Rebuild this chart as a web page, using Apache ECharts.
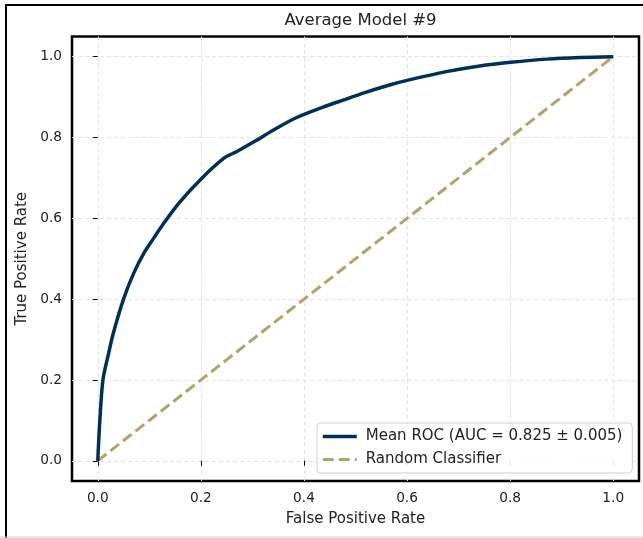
<!DOCTYPE html>
<html>
<head>
<meta charset="utf-8">
<script src="https://cdn.jsdelivr.net/npm/echarts@6/dist/echarts.min.js"></script>
<style>
html,body{margin:0;padding:0;background:#fff;}
#c{width:643px;height:538px;}
</style>
</head>
<body>
<div id="c"></div>
<script>
var titleText = 'Average Model #9';
var xName = 'False Positive Rate';
var yName = 'True Positive Rate';
var rocName = 'Mean ROC (AUC = 0.825 \u00b1 0.005)';
var randName = 'Random Classifier';
var tickValues = [0, 0.2, 0.4, 0.6, 0.8, 1.0];

var rocFpr = [0, 0.004, 0.01, 0.02, 0.03, 0.05, 0.07, 0.09, 0.107, 0.126, 0.159, 0.2, 0.246, 0.269, 0.308, 0.34, 0.385, 0.443, 0.482, 0.515, 0.566, 0.602, 0.676, 0.741, 0.801, 0.871, 0.935, 1.0];
var rocTpr = [0, 0.10, 0.20, 0.26, 0.315, 0.40, 0.465, 0.515, 0.548, 0.584, 0.640, 0.697, 0.75, 0.765, 0.793, 0.818, 0.849, 0.878, 0.895, 0.910, 0.930, 0.942, 0.963, 0.977, 0.986, 0.994, 0.998, 1.0];
var randFpr = [0, 1];
var randTpr = [0, 1];

var FONT = 'DejaVu Sans';
var TXT = '#222';

var chart = echarts.init(document.getElementById('c'), null, {renderer: 'canvas'});
function pairs(a, b) { return a.map(function (v, i) { return [v, b[i]]; }); }

chart.setOption({
  animation: false,
  backgroundColor: '#fff',
  textStyle: {fontFamily: FONT},
  title: {
    text: titleText, left: 355.5, textAlign: 'center', top: 7,
    textStyle: {fontFamily: FONT, fontSize: 16.5, fontWeight: 'normal', color: TXT}
  },
  grid: {
    left: 72, right: 4, top: 36.5, bottom: 57,
    show: true, borderColor: '#000', borderWidth: 2.5, backgroundColor: 'transparent'
  },
  xAxis: {
    type: 'value', min: -0.05, max: 1.05,
    name: xName, nameLocation: 'middle', nameGap: 31,
    nameTextStyle: {fontFamily: FONT, fontSize: 15, color: TXT},
    axisLine: {show: false},
    axisTick: {show: true, customValues: tickValues, length: 5, lineStyle: {color: '#000', width: 1}},
    axisLabel: {customValues: tickValues, margin: 10, fontFamily: FONT, fontSize: 13.7, color: TXT,
      formatter: function (v) { return v.toFixed(1); }},
    splitLine: {show: true, lineStyle: {color: '#e3e3e3', type: [4, 3], width: 1}}
  },
  yAxis: {
    type: 'value', min: -0.05, max: 1.05,
    name: yName, nameLocation: 'middle', nameGap: 41,
    nameTextStyle: {fontFamily: FONT, fontSize: 15, color: TXT},
    axisLine: {show: false},
    axisTick: {show: true, customValues: tickValues, length: 5, lineStyle: {color: '#000', width: 1}},
    axisLabel: {customValues: tickValues, margin: 10, fontFamily: FONT, fontSize: 13.7, color: TXT,
      formatter: function (v) { return v.toFixed(1); }},
    splitLine: {show: true, lineStyle: {color: '#e3e3e3', type: [4, 3], width: 1}}
  },
  legend: {
    orient: 'vertical', left: 317, top: 423,
    padding: [6, 10, 6, 4], itemGap: 8, itemWidth: 34, itemHeight: 15,
    itemStyle: {opacity: 0},
    backgroundColor: 'rgba(255,255,255,0.9)', borderColor: '#d0d0d0', borderWidth: 1, borderRadius: 4,
    textStyle: {fontFamily: FONT, fontSize: 15, color: TXT, padding: [0, 0, 0, 4]},
    data: [
      {name: rocName, lineStyle: {width: 3.5, color: '#003057'}},
      {name: randName, lineStyle: {width: 3, color: '#B3A369', type: [11, 5]}}
    ]
  },
  graphic: [
    {type: 'rect', shape: {x: 6, y: 5, width: 700, height: 600}, style: {fill: 'none', stroke: '#000', lineWidth: 2}, silent: true, z: 100},
    {type: 'line', shape: {x1: 0, y1: 537, x2: 643, y2: 537}, style: {stroke: '#d0d0d0', lineWidth: 1}, silent: true, z: 100}
  ],
  series: [
    {
      name: rocName, type: 'line', data: pairs(rocFpr, rocTpr), showSymbol: false, symbol: 'none',
      smooth: 0.3, lineStyle: {color: '#003057', width: 3.5}, itemStyle: {color: '#003057'}, z: 3
    },
    {
      name: randName, type: 'line', data: pairs(randFpr, randTpr), showSymbol: false, symbol: 'none',
      lineStyle: {color: '#B3A369', width: 3, type: [11, 5]}, itemStyle: {color: '#B3A369'}, z: 2
    }
  ]
});
</script>
</body>
</html>
